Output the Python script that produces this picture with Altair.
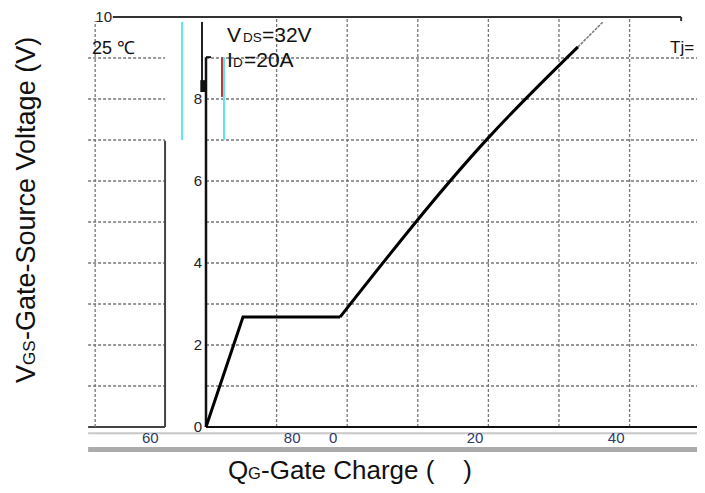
import altair as alt
import pandas as pd

FONT = "Liberation Sans"
NB = "\u00a0"

# ---- values (QG in chart units, VGS in volts) ----
# rise and Miller plateau
qg_low = [0.0, 5.24, 18.98]
vgs_low = [0.0, 2.68, 2.68]
# charging after the plateau (slightly bowed)
qg_high = [18.98, 40.08, 52.69]
vgs_high = [2.68, 7.07, 9.27]
qg_tail = [52.69, 56.23]
vgs_tail = [9.27, 9.88]

grid_levels = [1, 2, 3, 4, 5, 6, 7, 8, 9]
x_grid_values = [10, 20, 30, 40, 50, 60]

y_label_text = ["0", "2", "4", "6", "8", "10"]
y_label_v = [0, 2, 4, 6, 8, 10]
y_label_q = [0, 0, 0, 0, 0, -12.75]

x_label_text = ["60", "80", "0", "20", "40"]
x_label_q = [-7.9, 12.2, 18.0, 38.1, 58.1]
x_label_v = [-0.27, -0.27, -0.27, -0.27, -0.27]

# remnants of a second, overlapping panel on the left
left_q_from = -16.7
left_q_to = -5.8

Q_MAX = 69.55
xs = alt.Scale(domain=[0, Q_MAX], nice=False, zero=False)
ys = alt.Scale(domain=[0, 10], nice=False, zero=False)


def X(f):
    return alt.X(f, scale=xs, axis=None)


def Y(f):
    return alt.Y(f, scale=ys, axis=None)


GRID = dict(color="#777", strokeWidth=1.3, strokeDash=[3, 2])

hgrid = alt.Chart(pd.DataFrame({"lv": grid_levels, "a": [0] * 9, "b": [Q_MAX] * 9})).mark_rule(**GRID).encode(
    x=X("a:Q"), x2="b:Q", y=Y("lv:Q"))
left_grid = alt.Chart(pd.DataFrame({"lv": grid_levels, "a": [left_q_from] * 9, "b": [left_q_to] * 9})).mark_rule(**GRID).encode(
    x=X("a:Q"), x2="b:Q", y=Y("lv:Q"))
vgrid = alt.Chart(pd.DataFrame({"g": x_grid_values, "lo": [0] * 6, "hi": [10] * 6})).mark_rule(**GRID).encode(
    x=X("g:Q"), y=Y("lo:Q"), y2="hi:Q")

curve_low = alt.Chart(pd.DataFrame({"q": qg_low, "v": vgs_low})).mark_line(
    color="black", strokeWidth=3).encode(x=X("q:Q"), y=Y("v:Q"))
curve_high = alt.Chart(pd.DataFrame({"q": qg_high, "v": vgs_high})).mark_line(
    color="black", strokeWidth=3, interpolate="monotone").encode(x=X("q:Q"), y=Y("v:Q"))
tail = alt.Chart(pd.DataFrame({"q": qg_tail, "v": vgs_tail})).mark_line(
    color="#777", strokeWidth=1.5, strokeDash=[3, 1]).encode(x=X("q:Q"), y=Y("v:Q"))


def seg(q1, q2, v1, v2, color, width, dash=None):
    df = pd.DataFrame({"q1": [q1], "q2": [q2], "v1": [v1], "v2": [v2]})
    kw = dict(color=color, strokeWidth=width)
    if dash:
        kw["strokeDash"] = dash
    return alt.Chart(df).mark_rule(**kw).encode(x=X("q1:Q"), x2="q2:Q", y=Y("v1:Q"), y2="v2:Q")


rules = [
    seg(0, Q_MAX, 0, 0, "#111", 2),             # x axis line
    seg(0, 0, 0, 9.02, "#111", 2.5),            # y axis line
    seg(0, 0.7, 9.02, 9.02, "#111", 2),
    seg(-13.2, 67.3, 10, 10, "#333", 2),        # top border
    seg(67.3, 67.3, 10, 9.9, "#333", 2),
    seg(left_q_to, left_q_to, 0, 6.98, "#444", 2),
    seg(left_q_from, left_q_to, 0, 0, "#444", 2),
    seg(-15.7, -15.7, 0, 9.9, "#777", 1.3, [3, 2]),
    seg(-0.57, -0.57, 8.17, 9.88, "#222", 2),
    seg(-0.45, -0.45, 8.17, 8.46, "#111", 5),
    seg(-3.4, -3.4, 7.0, 9.88, "#5ee6f2", 2),
    seg(2.55, 2.55, 7.0, 9.02, "#5ee6f2", 2),
    seg(2.27, 2.27, 8.05, 9.02, "#b83a3a", 2),
    seg(-16.7, Q_MAX, -0.15, -0.15, "#c8c8c8", 2),
]

band = alt.Chart(pd.DataFrame({"q1": [-16.7], "q2": [Q_MAX], "v1": [-0.49], "v2": [-0.61]})).mark_rect(
    color="#ababab").encode(x=X("q1:Q"), x2="q2:Q", y=Y("v1:Q"), y2="v2:Q")

ylabels = alt.Chart(pd.DataFrame({"t": y_label_text, "q": y_label_q, "v": y_label_v})).mark_text(
    font=FONT, fontSize=15, color="#222", align="right", baseline="middle", dx=-4).encode(
    x=X("q:Q"), y=Y("v:Q"), text="t:N")

xlabels = alt.Chart(pd.DataFrame({"t": x_label_text, "q": x_label_q, "v": x_label_v})).mark_text(
    font=FONT, fontSize=15, color="#2f3a68", align="center", baseline="middle").encode(
    x=X("q:Q"), y=Y("v:Q"), text="t:N")

one = pd.DataFrame({"k": [0]})


def txt(text, px, py, size, angle=0, color="#111"):
    kw = dict(text=text, font=FONT, fontSize=size, color=color, align="left", baseline="alphabetic")
    if angle:
        kw["angle"] = angle
    return alt.Chart(one).mark_text(**kw).encode(x=alt.value(px), y=alt.value(py))


texts = [
    # annotations
    txt("V", 21, 25, 21), txt("DS", 37, 25, 13.5), txt("=32V", 56, 25, 21),
    txt("I", 21, 50, 21), txt("D", 27, 50, 13.5), txt("=20A", 38, 50, 21),
    txt("25 ℃", -114, 37, 18), txt("Tj=", 464, 36, 17),
    # y title
    txt("V", -171, 366, 27, 270), txt("GS", -171, 348, 17, 270),
    txt("-Gate-Source Voltage (V)", -171, 323, 27, 270),
    # x title
    txt("Q", 22, 462, 26), txt("G", 42, 462, 16.5),
    txt("-Gate Charge (" + NB * 4 + ")", 55, 462, 26),
]

chart = alt.layer(band, hgrid, vgrid, left_grid, *rules, curve_low, curve_high, tail,
                  ylabels, xlabels, *texts).properties(
    width=491, height=410,
    padding={"left": 198, "top": 9, "right": 0, "bottom": 58},
    autosize=alt.AutoSizeParams(type="none"),
).configure_view(strokeWidth=0)

chart.save("out.html", embed_options={"renderer": "svg", "actions": False})
